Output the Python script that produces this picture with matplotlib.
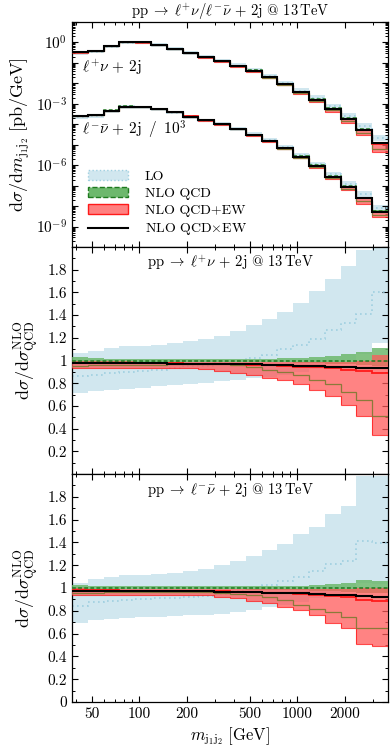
import matplotlib
matplotlib.use("Agg")
import matplotlib.pyplot as plt
import numpy as np
from matplotlib.patches import Patch
from matplotlib.lines import Line2D
from matplotlib.ticker import FixedLocator, FixedFormatter, NullFormatter

plt.rcParams['font.family'] = ['cmr10', 'DejaVu Serif']
plt.rcParams['mathtext.fontset'] = 'cm'
plt.rcParams['axes.formatter.use_mathtext'] = True
plt.rcParams['font.size'] = 10

############# DATA #############

# m_j1j2 bin edges [GeV]
edges = [37.5, 47.2, 59.4, 74.8, 94.2, 118.6, 149.3, 188, 236.7, 298, 375,
         472, 594, 748, 942, 1186, 1493, 1880, 2367, 2980, 3750]

# NLO QCDxEW distributions [pb/GeV]
wp_dist = [0.339, 0.393, 0.690, 1.046, 1.023, 0.772, 0.492, 0.303, 0.193, 0.120,
           0.0725, 0.0413, 0.0203, 0.00922, 0.00374, 0.00157, 5.71e-4, 1.85e-4, 5.36e-5, 1.20e-5]
wm_dist = [0.259, 0.290, 0.471, 0.739, 0.723, 0.571, 0.394, 0.240, 0.156, 0.102,
           0.060, 0.0305, 0.0155, 0.00682, 0.00265, 9.3e-4, 2.78e-4, 9.0e-5, 2.44e-5, 5.4e-6]

# ratios to NLO QCD, l+ nu
wp_lo_c = [0.86, 0.87, 0.89, 0.90, 0.91, 0.92, 0.935, 0.95, 0.955, 0.975,
           0.995, 1.02, 1.05, 1.10, 1.14, 1.19, 1.27, 1.33, 1.41, 1.60]
wp_lo_hi = [1.065, 1.085, 1.11, 1.125, 1.13, 1.14, 1.155, 1.175, 1.19, 1.22,
            1.26, 1.31, 1.37, 1.43, 1.51, 1.61, 1.72, 1.83, 1.97, 2.25]
wp_lo_lo = [0.715, 0.727, 0.738, 0.75, 0.761, 0.773, 0.784, 0.795, 0.806, 0.818,
            0.83, 0.842, 0.856, 0.875, 0.895, 0.925, 0.965, 1.005, 1.06, 1.155]
wp_qcd_hi = [1.03, 1.018, 1.017, 1.016, 1.015, 1.015, 1.015, 1.015, 1.015, 1.015,
             1.015, 1.015, 1.016, 1.02, 1.025, 1.033, 1.044, 1.053, 1.074, 1.113]
wp_qcd_lo = [0.975, 0.985, 0.986, 0.987, 0.988, 0.988, 0.988, 0.988, 0.988, 0.988,
             0.987, 0.986, 0.985, 0.983, 0.98, 0.977, 0.973, 0.968, 0.96, 0.95]
wp_ew_hi = [1.0, 0.995, 0.993, 0.992, 0.991, 0.99, 0.99, 0.99, 0.99, 0.99,
            0.99, 0.99, 0.99, 0.99, 0.99, 0.99, 0.99, 0.99, 1.0, 1.045]
wp_ew_lo = [0.93, 0.93, 0.935, 0.935, 0.935, 0.935, 0.935, 0.93, 0.925, 0.91,
            0.89, 0.87, 0.85, 0.825, 0.79, 0.74, 0.685, 0.61, 0.515, 0.345]
wp_ew_c = [0.979, 0.979, 0.978, 0.978, 0.977, 0.976, 0.975, 0.973, 0.972, 0.97,
           0.967, 0.963, 0.958, 0.952, 0.947, 0.94, 0.93, 0.92, 0.91, 0.89]
wp_ew_alt = [0.955, 0.958, 0.96, 0.962, 0.963, 0.964, 0.965, 0.966, 0.967, 0.967,
             0.96, 0.94, 0.92, 0.895, 0.87, 0.83, 0.79, 0.72, 0.65, 0.51]
wp_mult = [0.976, 0.976, 0.975, 0.975, 0.975, 0.974, 0.973, 0.972, 0.971, 0.97,
           0.968, 0.965, 0.962, 0.958, 0.955, 0.951, 0.947, 0.943, 0.937, 0.933]

# ratios to NLO QCD, l- nubar
wm_lo_c = [0.845, 0.873, 0.888, 0.897, 0.903, 0.909, 0.914, 0.918, 0.926, 0.945,
           0.975, 1.0, 1.03, 1.065, 1.094, 1.147, 1.212, 1.24, 1.408, 1.397]
wm_lo_hi = [1.04, 1.08, 1.095, 1.11, 1.118, 1.123, 1.13, 1.147, 1.168, 1.203,
            1.24, 1.285, 1.335, 1.39, 1.47, 1.535, 1.645, 1.72, 1.98, 1.98]
wm_lo_lo = [0.697, 0.715, 0.728, 0.735, 0.742, 0.748, 0.754, 0.76, 0.766, 0.775,
            0.79, 0.81, 0.83, 0.855, 0.875, 0.91, 0.96, 0.99, 1.04, 1.035]
wm_qcd_hi = [1.03, 1.015, 1.015, 1.015, 1.015, 1.015, 1.015, 1.015, 1.015, 1.015,
             1.015, 1.015, 1.015, 1.015, 1.02, 1.026, 1.035, 1.04, 1.073, 1.064]
wm_qcd_lo = [0.975, 0.985, 0.986, 0.987, 0.988, 0.988, 0.988, 0.988, 0.988, 0.988,
             0.987, 0.986, 0.985, 0.983, 0.98, 0.977, 0.973, 0.968, 0.96, 0.955]
wm_ew_hi = [1.0, 0.995, 0.993, 0.992, 0.991, 0.99, 0.99, 0.99, 0.99, 0.99,
            0.99, 0.99, 0.99, 0.99, 0.99, 0.99, 0.99, 0.99, 1.0, 1.0]
wm_ew_lo = [0.94, 0.94, 0.94, 0.94, 0.94, 0.94, 0.94, 0.938, 0.935, 0.925,
            0.91, 0.89, 0.865, 0.83, 0.805, 0.765, 0.697, 0.652, 0.51, 0.488]
wm_ew_c = [0.98, 0.979, 0.979, 0.978, 0.978, 0.977, 0.976, 0.975, 0.973, 0.97,
           0.967, 0.963, 0.959, 0.953, 0.947, 0.94, 0.93, 0.919, 0.897, 0.888]
wm_ew_alt = [0.958, 0.96, 0.961, 0.962, 0.963, 0.963, 0.964, 0.964, 0.962, 0.958,
             0.95, 0.94, 0.925, 0.895, 0.855, 0.815, 0.79, 0.75, 0.652, 0.652]
wm_mult = [0.976, 0.975, 0.975, 0.974, 0.974, 0.973, 0.972, 0.971, 0.97, 0.968,
           0.966, 0.963, 0.96, 0.956, 0.952, 0.947, 0.942, 0.935, 0.927, 0.92]

############# STYLE #############

c_lo = '#d1e7ef'
c_lo_line = '#9fcfe0'
c_qcd = '#6db86d'
c_qcd_line = '#1f7a1f'
c_ew = '#ff5a5a'
c_ew_line = '#ff1a1a'
c_alt = '#8a7a3a'

x_major = [50, 100, 200, 500, 1000, 2000]
x_minor = [40, 60, 70, 80, 90, 300, 400, 600, 700, 800, 900, 3000]


def draw_set(ax, scale, lo_c, lo_lo, lo_hi, qcd_lo, qcd_hi, ew_lo, ew_hi, ew_c, ew_alt, mult):
    s = np.asarray(scale, dtype=float)
    ax.stairs(s * np.array(lo_hi), edges, baseline=s * np.array(lo_lo), fill=True,
              color=c_lo, lw=0, zorder=1)
    ax.stairs(s * np.array(lo_c), edges, baseline=None, color=c_lo_line, lw=1.2,
              ls=(0, (1, 2)), zorder=2)
    ax.stairs(s * np.array(qcd_hi), edges, baseline=s * np.array(qcd_lo), fill=True,
              color=c_qcd, alpha=0.85, lw=0, zorder=3)
    ax.stairs(s * np.array(ew_hi), edges, baseline=s * np.array(ew_lo), fill=True,
              color=c_ew, alpha=0.75, lw=0, zorder=4)
    ax.stairs(s * np.array(ew_lo), edges, baseline=None, color=c_ew_line, lw=0.8, alpha=0.8, zorder=5)
    ax.stairs(s * np.array(ew_alt), edges, baseline=None, color=c_alt, lw=0.9, zorder=5)
    ax.stairs(s, edges, baseline=None, color=c_qcd_line, lw=1.1, ls=(0, (2.5, 1.5)), zorder=6)
    ax.stairs(s * np.array(ew_c), edges, baseline=None, color=c_ew_line, lw=1.3, zorder=6)
    ax.stairs(s * np.array(mult), edges, baseline=None, color='black', lw=1.5, zorder=7)


def style_x(ax, labels):
    ax.set_xscale('log')
    ax.set_xlim(edges[0], edges[-1])
    ax.xaxis.set_major_locator(FixedLocator(x_major))
    ax.xaxis.set_minor_locator(FixedLocator(x_minor))
    ax.xaxis.set_minor_formatter(NullFormatter())
    if labels:
        ax.xaxis.set_major_formatter(FixedFormatter([str(v) for v in x_major]))
    else:
        ax.xaxis.set_major_formatter(NullFormatter())
    ax.tick_params(which='both', direction='in', top=True, right=True, labelsize=11)
    ax.tick_params(which='major', length=4.5, width=0.8)
    ax.tick_params(which='minor', length=2.5, width=0.7)
    for sp in ax.spines.values():
        sp.set_linewidth(0.9)


fig = plt.figure(figsize=(3.9, 7.47), dpi=100)
left, width = 0.1846, 0.8103
ax1 = fig.add_axes([left, 0.6693, width, 0.3012])
ax2 = fig.add_axes([left, 0.3655, width, 0.3038])
ax3 = fig.add_axes([left, 0.0602, width, 0.3053])

############# TOP PANEL #############

wp_nlo = np.array(wp_dist) / np.array(wp_mult)
wm_nlo = np.array(wm_dist) / np.array(wm_mult) / 1e3

draw_set(ax1, wp_nlo, wp_lo_c, wp_lo_lo, wp_lo_hi, wp_qcd_lo, wp_qcd_hi,
         wp_ew_lo, wp_ew_hi, wp_ew_c, wp_ew_alt, wp_mult)
draw_set(ax1, wm_nlo, wm_lo_c, wm_lo_lo, wm_lo_hi, wm_qcd_lo, wm_qcd_hi,
         wm_ew_lo, wm_ew_hi, wm_ew_c, wm_ew_alt, wm_mult)

ax1.set_yscale('log')
ax1.set_ylim(1e-10, 1e1)
style_x(ax1, False)
decades = [10.0 ** k for k in range(-10, 2)]
ax1.yaxis.set_major_locator(FixedLocator(decades))
ax1.yaxis.set_major_formatter(FixedFormatter(
    [r'$10^{%d}$' % k if k in (0, -3, -6, -9) else '' for k in range(-10, 2)]))
ax1.yaxis.set_minor_locator(FixedLocator(
    [m * 10.0 ** k for k in range(-10, 1) for m in range(2, 10)]))
ax1.yaxis.set_minor_formatter(NullFormatter())
ax1.tick_params(axis='y', which='minor', length=2)
ax1.set_ylabel(r'$\mathrm{d}\sigma/\mathrm{d}m_{\mathrm{j_1j_2}}\;[\mathrm{pb/GeV}]$', fontsize=13, labelpad=3)
ax1.set_title(r'$\mathrm{pp}\;\rightarrow\;\ell^{+}\nu/\ell^{-}\bar{\nu}\,+\,2\mathrm{j}$ @ $13\,\mathrm{TeV}$',
              fontsize=10.5, pad=5)
ax1.text(0.032, 0.80, r'$\ell^{+}\nu\,+\,2\mathrm{j}$', transform=ax1.transAxes,
         fontsize=11, va='center', ha='left')
ax1.text(0.032, 0.52, r'$\ell^{-}\bar{\nu}\,+\,2\mathrm{j}\;\;/\;\;10^{3}$', transform=ax1.transAxes,
         fontsize=11, va='center', ha='left')

handles = [
    Patch(facecolor=c_lo, edgecolor=c_lo_line, ls=':', lw=1.0),
    Patch(facecolor=c_qcd, edgecolor=c_qcd_line, ls='--', lw=1.0),
    Patch(facecolor='#ff8080', edgecolor=c_ew_line, lw=1.0),
    Line2D([], [], color='black', lw=1.5),
]
ax1.legend(handles, ['LO', 'NLO QCD', 'NLO QCD+EW', r'NLO QCD$\times$EW'],
           loc='lower left', bbox_to_anchor=(0.02, 0.0), frameon=False,
           handlelength=2.9, handleheight=0.65, handletextpad=1.2,
           labelspacing=0.32, borderpad=0.2, fontsize=10)

############# RATIO PANELS #############

draw_set(ax2, np.ones(20), wp_lo_c, wp_lo_lo, wp_lo_hi, wp_qcd_lo, wp_qcd_hi,
         wp_ew_lo, wp_ew_hi, wp_ew_c, wp_ew_alt, wp_mult)
draw_set(ax3, np.ones(20), wm_lo_c, wm_lo_lo, wm_lo_hi, wm_qcd_lo, wm_qcd_hi,
         wm_ew_lo, wm_ew_hi, wm_ew_c, wm_ew_alt, wm_mult)

ratio_ticks = [0.2, 0.4, 0.6, 0.8, 1.0, 1.2, 1.4, 1.6, 1.8]
for ax, lab, with_zero in [(ax2, r'$\mathrm{pp}\;\rightarrow\;\ell^{+}\nu\,+\,2\mathrm{j}$ @ $13\,\mathrm{TeV}$', False),
                           (ax3, r'$\mathrm{pp}\;\rightarrow\;\ell^{-}\bar{\nu}\,+\,2\mathrm{j}$ @ $13\,\mathrm{TeV}$', True)]:
    ax.set_ylim(0, 2)
    style_x(ax, with_zero)
    ticks = ([0.0] if with_zero else []) + ratio_ticks
    ax.yaxis.set_major_locator(FixedLocator(ticks))
    ax.yaxis.set_major_formatter(FixedFormatter(['%g' % t for t in ticks]))
    ax.yaxis.set_minor_locator(FixedLocator([0.1, 0.3, 0.5, 0.7, 0.9, 1.1, 1.3, 1.5, 1.7, 1.9]))
    ax.set_ylabel(r'$\mathrm{d}\sigma/\mathrm{d}\sigma^{\mathrm{NLO}}_{\mathrm{QCD}}$', fontsize=13, labelpad=4)
    ax.text(0.5, 0.93, lab, transform=ax.transAxes, ha='center', va='center', fontsize=10.5)

ax3.set_xlabel(r'$m_{\mathrm{j_1j_2}}\;[\mathrm{GeV}]$', fontsize=12, labelpad=3)

fig.savefig('out.png', dpi=100)
